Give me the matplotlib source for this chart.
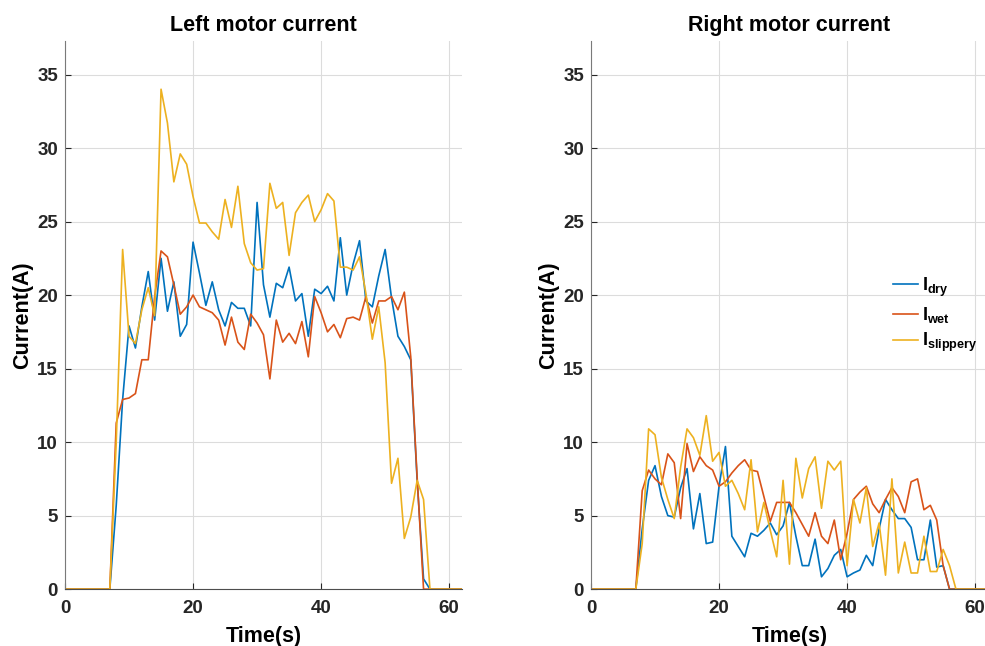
import numpy as np
import matplotlib
matplotlib.use("Agg")
import matplotlib.pyplot as plt

plt.rcParams["font.family"] = ["Liberation Sans", "DejaVu Sans"]
plt.rcParams["mathtext.fontset"] = "custom"
plt.rcParams["mathtext.rm"] = "Liberation Sans"
plt.rcParams["mathtext.bf"] = "Liberation Sans:bold"

# time axis, one sample per second
time_s = np.arange(0, 63)

# left motor current (A), from t=7 s until the motor stops
left_dry = [0, 5.7, 12.9, 17.9, 16.4, 19.2, 21.6, 18.3, 22.5, 18.9, 20.9, 17.2, 18.0,
            23.6, 21.5, 19.3, 20.9, 19.0, 17.9, 19.5, 19.1, 19.1, 17.9, 26.3, 20.7,
            18.5, 20.8, 20.5, 21.9, 19.6, 20.1, 17.2, 20.4, 20.1, 20.6, 19.6, 23.9,
            20.0, 22.1, 23.7, 19.6, 19.2, 21.3, 23.1, 19.8, 17.2, 16.5, 15.6, 7.4,
            0.7, 0]
left_wet = [0, 11.3, 12.9, 13.0, 13.3, 15.6, 15.6, 19.9, 23.0, 22.6, 20.7, 18.7, 19.2,
            20.0, 19.2, 19.0, 18.8, 18.3, 16.6, 18.5, 16.8, 16.3, 18.7, 18.1, 17.3,
            14.3, 18.3, 16.8, 17.4, 16.7, 18.2, 15.8, 19.9, 18.8, 17.5, 18.0, 17.1,
            18.4, 18.5, 18.3, 19.9, 18.1, 19.6, 19.6, 19.9, 19.0, 20.2, 15.8, 7.6, 0]
left_slippery = [0, 10.0, 23.1, 17.2, 16.7, 19.0, 20.5, 18.6, 34.0, 31.7, 27.7, 29.6,
                 28.9, 26.7, 24.9, 24.9, 24.3, 23.8, 26.5, 24.6, 27.4, 23.5, 22.2,
                 21.7, 21.8, 27.6, 25.9, 26.3, 22.7, 25.6, 26.3, 26.8, 25.0, 25.8,
                 26.9, 26.4, 21.9, 21.9, 21.7, 22.6, 20.1, 17.0, 19.2, 15.4, 7.2, 8.9,
                 3.45, 4.9, 7.4, 6.1, 0]

# right motor current (A)
right_dry = [0, 4.1, 7.4, 8.4, 6.3, 5.0, 4.9, 6.9, 8.2, 4.1, 6.5, 3.1, 3.2, 7.0, 9.7,
             3.6, 2.9, 2.2, 3.8, 3.6, 4.0, 4.5, 3.7, 4.3, 5.9, 3.6, 1.6, 1.6, 3.4,
             0.84, 1.4, 2.3, 2.7, 0.84, 1.1, 1.3, 2.3, 1.6, 4.1, 6.1, 5.4, 4.8, 4.8,
             4.2, 2.0, 2.0, 4.7, 1.5, 1.6, 0]
right_wet = [0, 6.7, 8.1, 7.5, 7.1, 9.2, 8.6, 4.8, 9.9, 8.0, 9.0, 8.4, 8.1, 7.0, 7.3,
             7.9, 8.4, 8.8, 8.1, 8.0, 6.3, 4.6, 5.9, 5.9, 5.9, 5.2, 4.4, 3.6, 5.2,
             3.6, 3.1, 4.7, 2.0, 3.8, 6.1, 6.6, 7.0, 5.8, 5.2, 6.1, 6.9, 6.3, 5.2,
             7.3, 7.5, 5.4, 5.7, 4.7, 1.6, 0]
right_slippery = [0, 3.1, 10.9, 10.5, 7.6, 6.1, 4.8, 8.3, 10.9, 10.3, 9.1, 11.8, 8.7,
                  9.3, 7.0, 7.4, 6.5, 5.4, 8.8, 3.9, 5.9, 4.0, 2.2, 7.4, 1.7, 8.9, 6.2,
                  8.2, 9.0, 5.5, 8.7, 8.1, 8.7, 1.6, 6.1, 4.5, 6.9, 2.9, 4.5, 0.95,
                  7.5, 1.1, 3.2, 1.1, 1.1, 3.6, 1.2, 1.2, 2.7, 1.6, 0]

start = 7
labels = [r"$\mathbf{I_{dry}}$", r"$\mathbf{I_{wet}}$", r"$\mathbf{I_{slippery}}$"]
colors = ["#0072BD", "#D95319", "#EDB120"]


def full_series(values):
    # pad with zeros before the start and after the stop
    out = np.zeros(len(time_s))
    out[start:start + len(values)] = values
    return out


def style_axes(ax, title):
    ax.set_xlim(0, 62)
    ax.set_ylim(0, 37.3)
    ax.set_xticks([0, 20, 40, 60])
    ax.set_yticks(np.arange(0, 36, 5))
    ax.grid(True, color="#dcdcdc", linewidth=0.8)
    ax.set_axisbelow(True)
    ax.spines["top"].set_visible(False)
    ax.spines["right"].set_visible(False)
    ax.spines["left"].set_color("#7a7a7a")
    ax.spines["bottom"].set_color("#4d4d4d")
    ax.tick_params(direction="in", length=4, colors="#262626", labelsize=13.5)
    ax.tick_params(axis="x", pad=8)
    ax.tick_params(axis="y", pad=5)
    for lbl in ax.get_xticklabels() + ax.get_yticklabels():
        lbl.set_fontweight("bold")
    ax.set_title(title, fontsize=15.5, fontweight="bold", pad=7)
    ax.set_xlabel("Time(s)", fontsize=15.5, fontweight="bold", labelpad=6)
    ax.set_ylabel("Current(A)", fontsize=15.5, fontweight="bold", labelpad=3)


fig = plt.figure(figsize=(9.85, 6.46), dpi=100)
ax1 = fig.add_axes([0.066, 0.088, 0.403, 0.849])
ax2 = fig.add_axes([0.600, 0.088, 0.403, 0.849])

for series, c, lab in zip([left_dry, left_wet, left_slippery], colors, labels):
    ax1.plot(time_s, full_series(series), color=c, linewidth=1.2, label=lab)
for series, c, lab in zip([right_dry, right_wet, right_slippery], colors, labels):
    ax2.plot(time_s, full_series(series), color=c, linewidth=1.2, label=lab)

style_axes(ax1, "Left motor current")
style_axes(ax2, "Right motor current")

ax2.legend(loc="center left", bbox_to_anchor=(0.72, 0.50), frameon=False,
           fontsize=13, handlelength=1.4, handletextpad=0.2, labelspacing=0.35)

fig.savefig("out.png", dpi=100)
